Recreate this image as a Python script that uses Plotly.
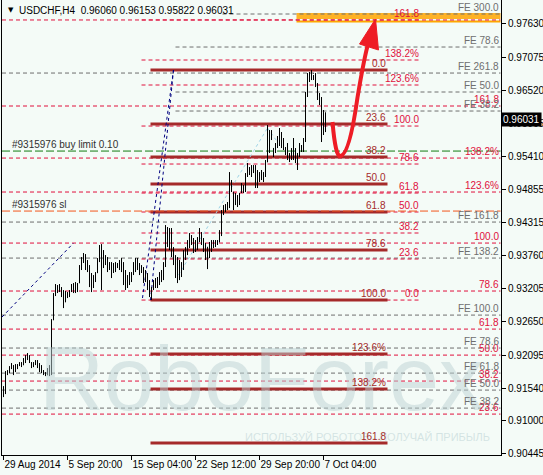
import plotly.graph_objects as go

# ---------------- data (USDCHF H4 bars) ----------------
bar_open = [0.9150, 0.9155, 0.9180, 0.9182, 0.9189, 0.9192, 0.9182, 0.9192, 0.9192, 0.9196,
            0.9193, 0.9203, 0.9207, 0.9205, 0.9197, 0.9190, 0.9196, 0.9199, 0.9190, 0.9185,
            0.9180, 0.9177, 0.9176, 0.9186, 0.9178, 0.9268, 0.9310, 0.9325, 0.9318, 0.9322,
            0.9310, 0.9298, 0.9310, 0.9312, 0.9316, 0.9326, 0.9320, 0.9328, 0.9330, 0.9358,
            0.9370, 0.9375, 0.9360, 0.9355, 0.9330, 0.9325, 0.9335, 0.9347, 0.9368, 0.9390,
            0.9360, 0.9375, 0.9365, 0.9355, 0.9360, 0.9348, 0.9360, 0.9358, 0.9360, 0.9365,
            0.9360, 0.9335, 0.9325, 0.9335, 0.9340, 0.9345, 0.9360, 0.9368, 0.9355, 0.9350,
            0.9355, 0.9335, 0.9345, 0.9322, 0.9310, 0.9320, 0.9330, 0.9325, 0.9335, 0.9340,
            0.9348, 0.9360, 0.9420, 0.9400, 0.9410, 0.9385, 0.9365, 0.9345, 0.9340, 0.9355,
            0.9362, 0.9380, 0.9385, 0.9395, 0.9405, 0.9398, 0.9390, 0.9398, 0.9402, 0.9412,
            0.9398, 0.9385, 0.9375, 0.9390, 0.9390, 0.9395, 0.9398, 0.9400, 0.9398, 0.9412,
            0.9448, 0.9455, 0.9460, 0.9458, 0.9500, 0.9482, 0.9465, 0.9470, 0.9465, 0.9482,
            0.9492, 0.9488, 0.9510, 0.9522, 0.9515, 0.9520, 0.9525, 0.9495, 0.9500, 0.9510,
            0.9505, 0.9512, 0.9532, 0.9585, 0.9572, 0.9555, 0.9548, 0.9560, 0.9570, 0.9580,
            0.9565, 0.9555, 0.9548, 0.9540, 0.9545, 0.9550, 0.9540, 0.9535, 0.9545, 0.9555,
            0.9552, 0.9568, 0.9645, 0.9675, 0.9670, 0.9680, 0.9675, 0.9662, 0.9640, 0.9635,
            0.9580, 0.96060]
bar_high = [0.91576, 0.91827, 0.91844, 0.91910, 0.91961, 0.91927, 0.91944, 0.91944, 0.91977, 0.91977,
            0.92044, 0.92094, 0.92128, 0.92094, 0.91977, 0.91977, 0.92011, 0.92011, 0.91961, 0.91927,
            0.91844, 0.91810, 0.91877, 0.91927, 0.92696, 0.93131, 0.93282, 0.93265, 0.93282, 0.93231,
            0.93181, 0.93165, 0.93148, 0.93181, 0.93282, 0.93298, 0.93315, 0.93298, 0.93599, 0.93733,
            0.93800, 0.93783, 0.93683, 0.93599, 0.93466, 0.93432, 0.93482, 0.93716, 0.93934, 0.93950,
            0.93850, 0.93766, 0.93733, 0.93649, 0.93649, 0.93633, 0.93649, 0.93633, 0.93683, 0.93716,
            0.93649, 0.93516, 0.93432, 0.93482, 0.93482, 0.93649, 0.93716, 0.93716, 0.93633, 0.93599,
            0.93566, 0.93516, 0.93466, 0.93348, 0.93231, 0.93348, 0.93382, 0.93399, 0.93482, 0.93516,
            0.93649, 0.94268, 0.94235, 0.94218, 0.94218, 0.93900, 0.93766, 0.93733, 0.93683, 0.93649,
            0.93850, 0.93900, 0.94017, 0.94134, 0.94101, 0.94051, 0.94017, 0.94067, 0.94218, 0.94151,
            0.94051, 0.93967, 0.93900, 0.93984, 0.94017, 0.94017, 0.94017, 0.94017, 0.94184, 0.94519,
            0.94602, 0.94619, 0.94653, 0.95154, 0.95020, 0.94820, 0.94803, 0.94770, 0.94803, 0.94970,
            0.94937, 0.95137, 0.95305, 0.95238, 0.95271, 0.95271, 0.95271, 0.95188, 0.95154, 0.95188,
            0.95154, 0.95355, 0.95940, 0.95856, 0.95856, 0.95555, 0.95639, 0.95756, 0.95890, 0.95823,
            0.95723, 0.95572, 0.95639, 0.95472, 0.95555, 0.95723, 0.95555, 0.95472, 0.95639, 0.95606,
            0.95723, 0.96492, 0.96809, 0.96826, 0.96860, 0.96776, 0.96809, 0.96642, 0.96475, 0.96408,
            0.96191, 0.96153]
bar_low = [0.91392, 0.91442, 0.91760, 0.91793, 0.91860, 0.91760, 0.91810, 0.91860, 0.91910, 0.91894,
           0.91927, 0.91961, 0.92011, 0.91961, 0.91877, 0.91894, 0.91927, 0.91877, 0.91810, 0.91793,
           0.91760, 0.91743, 0.91760, 0.91743, 0.91760, 0.92680, 0.93081, 0.93131, 0.93148, 0.93064,
           0.92880, 0.92981, 0.93047, 0.93064, 0.93148, 0.93131, 0.93131, 0.93148, 0.93298, 0.93516,
           0.93633, 0.93516, 0.93482, 0.93231, 0.93148, 0.93215, 0.93315, 0.93466, 0.93649, 0.93181,
           0.93549, 0.93599, 0.93482, 0.93516, 0.93382, 0.93466, 0.93482, 0.93549, 0.93516, 0.93482,
           0.93265, 0.93181, 0.93215, 0.93265, 0.93315, 0.93432, 0.93482, 0.93516, 0.93432, 0.93466,
           0.93298, 0.93315, 0.93181, 0.93064, 0.93014, 0.93181, 0.93215, 0.93215, 0.93265, 0.93315,
           0.93348, 0.93566, 0.93900, 0.93850, 0.93733, 0.93599, 0.93382, 0.93298, 0.93348, 0.93399,
           0.93516, 0.93683, 0.93766, 0.93883, 0.93934, 0.93800, 0.93817, 0.93850, 0.93984, 0.93934,
           0.93817, 0.93683, 0.93532, 0.93716, 0.93817, 0.93883, 0.93900, 0.93934, 0.93984, 0.94084,
           0.94435, 0.94485, 0.94519, 0.94552, 0.94820, 0.94519, 0.94602, 0.94569, 0.94602, 0.94803,
           0.94803, 0.94820, 0.95071, 0.95104, 0.95071, 0.95137, 0.94887, 0.94887, 0.94987, 0.95020,
           0.94987, 0.95071, 0.95321, 0.95472, 0.95689, 0.95405, 0.95472, 0.95555, 0.95589, 0.95555,
           0.95522, 0.95438, 0.95355, 0.95321, 0.95355, 0.95355, 0.95305, 0.95188, 0.95405, 0.95489,
           0.95489, 0.95656, 0.96408, 0.96659, 0.96692, 0.96692, 0.96575, 0.96358, 0.96274, 0.95656,
           0.95773, 0.95822]
bar_close = [0.9155, 0.9180, 0.9182, 0.9189, 0.9192, 0.9182, 0.9192, 0.9190, 0.9196, 0.9192,
             0.9203, 0.9207, 0.9205, 0.9198, 0.9190, 0.9196, 0.9199, 0.9190, 0.9185, 0.9180,
             0.9177, 0.9176, 0.9186, 0.9178, 0.9265, 0.9305, 0.9325, 0.9318, 0.9322, 0.9310,
             0.9298, 0.9310, 0.9312, 0.9316, 0.9326, 0.9320, 0.9328, 0.9329, 0.9358, 0.9370,
             0.9375, 0.9360, 0.9355, 0.9330, 0.9325, 0.9335, 0.9345, 0.9368, 0.9390, 0.9360,
             0.9375, 0.9365, 0.9355, 0.9360, 0.9348, 0.9360, 0.9358, 0.9360, 0.9365, 0.9360,
             0.9335, 0.9325, 0.9335, 0.9340, 0.9345, 0.9360, 0.9368, 0.9355, 0.9350, 0.9355,
             0.9335, 0.9345, 0.9322, 0.9310, 0.9320, 0.9330, 0.9325, 0.9335, 0.9340, 0.9348,
             0.9360, 0.9420, 0.9400, 0.9410, 0.9385, 0.9365, 0.9345, 0.9340, 0.9355, 0.9362,
             0.9380, 0.9385, 0.9395, 0.9405, 0.9398, 0.9390, 0.9398, 0.9402, 0.9412, 0.9398,
             0.9385, 0.9375, 0.9390, 0.9390, 0.9395, 0.9398, 0.9400, 0.9398, 0.9412, 0.9448,
             0.9455, 0.9460, 0.9458, 0.9500, 0.9485, 0.9465, 0.9470, 0.9465, 0.9478, 0.9492,
             0.9488, 0.9510, 0.9522, 0.9515, 0.9520, 0.9525, 0.9495, 0.9500, 0.9510, 0.9505,
             0.9512, 0.9532, 0.9585, 0.9572, 0.9572, 0.9548, 0.9560, 0.9570, 0.9580, 0.9565,
             0.9555, 0.9548, 0.9540, 0.9545, 0.9550, 0.9540, 0.9535, 0.9545, 0.9555, 0.9552,
             0.9568, 0.9645, 0.9675, 0.9670, 0.9680, 0.9675, 0.9662, 0.9640, 0.9635, 0.9580,
             0.9606, 0.96031]
bar_index = list(range(len(bar_close)))

x_tick_bars = [0, 32, 64, 96, 128, 160]
x_tick_labels = ["29 Aug 2014", "5 Sep 20:00", "15 Sep 04:00", "22 Sep 12:00",
                 "29 Sep 20:00", "7 Oct 04:00"]
y_tick_values = [0.97630, 0.97075, 0.96520, 0.95965, 0.95410, 0.94855, 0.94315,
                 0.93760, 0.93205, 0.92650, 0.92095, 0.91540, 0.91000, 0.90445]

# Fibonacci / expansion levels
fibo_a_labels = ["", "161.8", "138.2%", "123.6%", "100.0", "78.6", "61.8", "50.0", "38.2", "23.6"]
fibo_a_prices = [0.97696, 0.96258, 0.95388, 0.94820, 0.93967, 0.93165, 0.92529, 0.92094, 0.91660, 0.91108]

fe_a_labels = ["FE 300.0", "FE 261.8", "FE 161.8", "FE 138.2", "FE 100.0",
               "FE 78.6", "FE 61.8", "FE 50.0", "FE 38.2"]
fe_a_prices = [0.97796, 0.96809, 0.94318, 0.93716, 0.92763, 0.92212, 0.91793, 0.91509, 0.91208]

fe_b_labels = ["FE 78.6", "FE 50.0", "FE 38.2"]
fe_b_prices = [0.97244, 0.96492, 0.96174]

fibo_b_labels = ["161.8", "138.2%", "123.6%", "100.0", "78.6", "61.8", "50.0", "38.2", "23.6", "0.0"]
fibo_b_prices = [0.97696, 0.97027, 0.96609, 0.95923, 0.95288, 0.94803, 0.94486, 0.94135, 0.93700, 0.93014]

fibo_c_labels = ["0.0", "23.6", "38.2", "50.0", "61.8", "78.6", "100.0", "123.6%", "138.2%", "161.8"]
fibo_c_prices = [0.96860, 0.95957, 0.95406, 0.94954, 0.94486, 0.93850, 0.93014, 0.92111, 0.91526, 0.90623]

order_buy_limit = 0.95505
order_sl = 0.94502
target_zone = [0.97712, 0.97813]
target_line = 0.97671
title_text = "USDCHF,H4  0.96060 0.96153 0.95822 0.96031"
last_price = 0.96031

# ---------------- styling / layout constants ----------------
X_MIN, X_MAX = -0.75, 248.75
Y_MIN, Y_MAX = 0.90424, 0.98030
FONT = "Liberation Sans"
RED = "#E0103C"
GRAY = "#6E6E6E"
BROWN = "#A52A2A"
LBL = 10

fig = go.Figure()

# watermark (under bars)
fig.add_trace(go.Scatter(x=[129], y=[0.9155], mode="text", text=["RoboForex"],
                         textfont=dict(size=90, color="rgba(188,210,212,0.5)", family="Liberation Sans"),
                         hoverinfo="skip", showlegend=False))
fig.add_trace(go.Scatter(x=[182], y=[0.9070], mode="text",
                         text=["ИСПОЛЬЗУЙ РОБОТОВ - ПОЛУЧАЙ ПРИБЫЛЬ"],
                         textfont=dict(size=11, color="rgba(190,212,214,0.6)", family="Liberation Sans"),
                         hoverinfo="skip", showlegend=False))

fig.add_trace(go.Ohlc(x=bar_index, open=bar_open, high=bar_high, low=bar_low, close=bar_close,
                      increasing=dict(line=dict(color="black", width=1)),
                      decreasing=dict(line=dict(color="black", width=1)),
                      tickwidth=0.25, hoverinfo="skip", showlegend=False))

shapes = []
annotations = []


def hline(y, x0, x1, color, width=1, dash="4px,3px", layer="below"):
    shapes.append(dict(type="line", xref="x", yref="y", x0=x0, x1=x1, y0=y, y1=y,
                       line=dict(color=color, width=width, dash=dash), layer=layer))


def label(text, x, y, color):
    if text:
        annotations.append(dict(x=x, y=y, xref="x", yref="y", text=text, showarrow=False,
                                xanchor="right", yanchor="bottom", yshift=-1,
                                font=dict(family=FONT, size=LBL, color=color)))


# target zone
shapes.append(dict(type="rect", xref="x", yref="y", x0=146.5, x1=248.5,
                   y0=target_zone[0], y1=target_zone[1],
                   fillcolor="rgba(255,165,0,0.85)", line=dict(width=0), layer="below"))
hline(target_line, 146.5, 248.5, "#FFA500", width=2, dash="solid")

# full-width fibo (red)
for t, p in zip(fibo_a_labels, fibo_a_prices):
    hline(p, X_MIN, 248.5, RED)
    label(t, 248.5, p, RED)

# expansion set A (gray)
for k, (t, p) in enumerate(zip(fe_a_labels, fe_a_prices)):
    hline(p, 109.5 if k == 0 else X_MIN, 248.5, GRAY)
    label(t, 248.5, p, GRAY)

# expansion set B (gray)
for t, p in zip(fe_b_labels, fe_b_prices):
    hline(p, 86, 248.5, GRAY)
    label(t, 248.5, p, GRAY)

# fibo set B (red, middle)
for t, p in zip(fibo_b_labels, fibo_b_prices):
    hline(p, 69, 208.5, RED)
    label(t, 208.5, p, RED)

# fibo set C (solid)
for t, p in zip(fibo_c_labels, fibo_c_prices):
    hline(p, 73.5, 192, BROWN, width=3, dash="solid")
    label(t, 192, p, BROWN)

# orders
hline(order_buy_limit, X_MIN, 248.5, "#117A11", width=1, dash="8px,3px")
hline(order_sl, X_MIN, 248.5, "#F2561D", width=1, dash="8px,3px")
annotations.append(dict(x=3, y=order_buy_limit, xref="x", yref="y", text="#9315976 buy limit 0.10",
                        showarrow=False, xanchor="left", yanchor="bottom", yshift=-1,
                        font=dict(family=FONT, size=LBL, color="#303030")))
annotations.append(dict(x=3, y=order_sl, xref="x", yref="y", text="#9315976 sl",
                        showarrow=False, xanchor="left", yanchor="bottom", yshift=-1,
                        font=dict(family=FONT, size=LBL, color="#303030")))

# dotted construction lines
def seg(x0, y0, x1, y1, color):
    shapes.append(dict(type="line", xref="x", yref="y", x0=x0, y0=y0, x1=x1, y1=y1,
                       line=dict(color=color, width=1, dash="3px,3px"), layer="below"))


seg(X_MIN, 0.92730, 35, 0.93967, "#000080")
seg(69.5, 0.93048, 85, 0.96860, "#000080")
seg(73.5, 0.93014, 85, 0.96860, "#000080")
seg(87.5, 0.93432, 132, 0.95890, "#9ED3E6")
seg(132, 0.95890, 137, 0.95656, "#9ED3E6")

# red forecast arrow
shapes.append(dict(type="path", xref="x", yref="y",
                   path="M 164.5,0.9599 Q 166,0.9540 168.5,0.95422 Q 173,0.9545 177,0.9640 "
                        "Q 180,0.9700 182,0.9726",
                   line=dict(color="#EE1C25", width=4), layer="above"))
shapes.append(dict(type="path", xref="x", yref="y",
                   path="M 186,0.97712 L 178,0.97294 L 187.5,0.97194 Z",
                   fillcolor="#EE1C25", line=dict(color="#EE1C25", width=1), layer="above"))

# title
annotations.append(dict(x=0.008, y=0.977, xref="paper", yref="paper", text="▼",
                        showarrow=False, xanchor="left", yanchor="middle",
                        font=dict(family="DejaVu Sans", size=7, color="black")))
annotations.append(dict(x=0.031, y=0.977, xref="paper", yref="paper", text=title_text,
                        showarrow=False, xanchor="left", yanchor="middle",
                        font=dict(family=FONT, size=10, color="black")))

# last price box
annotations.append(dict(x=1.0, y=last_price, xref="paper", yref="y", text="0.96031",
                        showarrow=False, xanchor="left", yanchor="middle", bgcolor="black",
                        borderpad=1, xshift=0,
                        font=dict(family=FONT, size=10, color="white")))

fig.update_layout(
    width=543, height=475,
    margin=dict(l=2, r=42, t=0, b=20, autoexpand=False),
    paper_bgcolor="#F4FBF7", plot_bgcolor="#F4FBF7",
    shapes=shapes, annotations=annotations,
    showlegend=False, hovermode=False,
    xaxis=dict(range=[X_MIN, X_MAX], tickvals=x_tick_bars, ticktext=x_tick_labels,
               ticks="outside", ticklen=4, tickcolor="black", showgrid=False, zeroline=False,
               showline=True, linecolor="black", linewidth=1, tickangle=0, automargin=False,
               ticklabelposition="outside right",
               tickfont=dict(family=FONT, size=10, color="black"),
               rangeslider=dict(visible=False), fixedrange=True),
    yaxis=dict(range=[Y_MIN, Y_MAX], side="right", tickvals=y_tick_values,
               ticktext=[f"{v:.5f}" for v in y_tick_values], automargin=False,
               ticks="outside", ticklen=4, tickcolor="black", showgrid=False, zeroline=False,
               showline=True, linecolor="black", linewidth=1, mirror=True,
               tickfont=dict(family=FONT, size=10, color="black"), fixedrange=True),
)

fig.write_html("out.html", config={"displayModeBar": False},
               post_script="document.body.style.margin='0';document.body.style.overflow='hidden';")
